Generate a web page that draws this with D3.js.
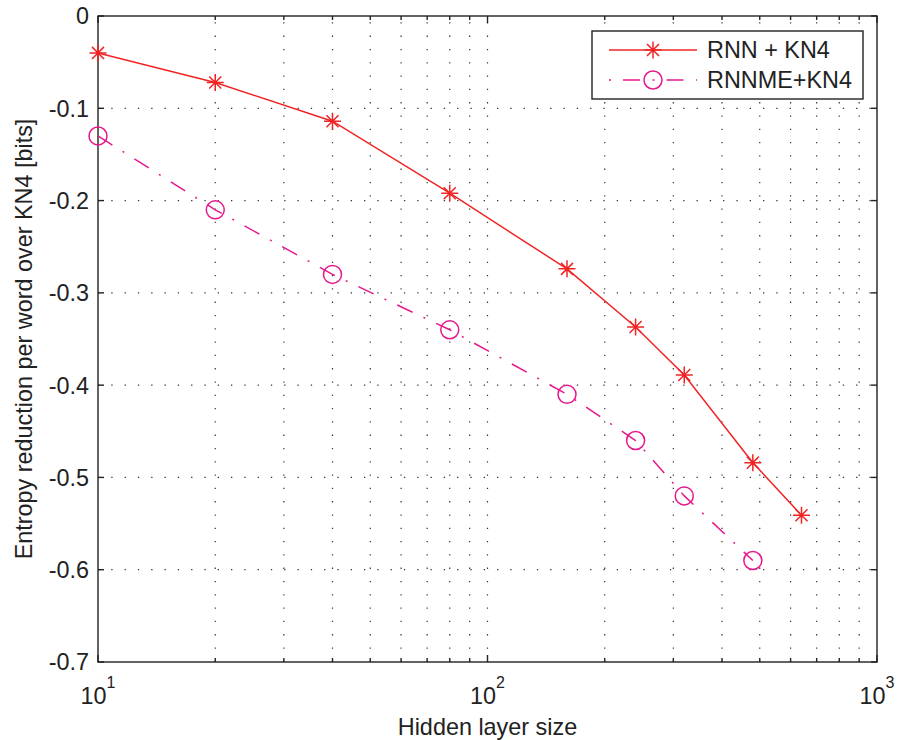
<!DOCTYPE html>
<html>
<head>
<meta charset="utf-8">
<script src="https://cdn.jsdelivr.net/npm/d3@7/dist/d3.min.js"></script>
<style>
  html, body { margin: 0; padding: 0; background: #fff; }
  svg { display: block; }
  text { font-family: "Liberation Sans", Arial, Helvetica, sans-serif; fill: #222; }
</style>
</head>
<body>
<svg id="chart" width="898" height="740"></svg>
<script>
// ---- data ----
const hiddenRNN = [10, 20, 40, 80, 160, 240, 320, 480, 640];
const entropyRNN = [-0.04, -0.072, -0.114, -0.192, -0.274, -0.337, -0.389, -0.484, -0.541];
const hiddenRNNME = [10, 20, 40, 80, 160, 240, 320, 480];
const entropyRNNME = [-0.13, -0.21, -0.28, -0.34, -0.41, -0.46, -0.52, -0.59];
const seriesNames = ["RNN + KN4", "RNNME+KN4"];
const yTicks = [0, -0.1, -0.2, -0.3, -0.4, -0.5, -0.6, -0.7];
const xMajorTicks = [10, 100, 1000];
const xExponents = ["1", "2", "3"];
const xMinorTicks = [20, 30, 40, 50, 60, 70, 80, 90, 200, 300, 400, 500, 600, 700, 800, 900];
const xLabel = "Hidden layer size";
const yLabel = "Entropy reduction per word over KN4 [bits]";

// ---- layout ----
const L = 98, R = 877, T = 16, B = 662;
const FS = 23.4;
const svg = d3.select("#chart");
const x = d3.scaleLog().domain([10, 1000]).range([L, R]);
const y = d3.scaleLinear().domain([-0.7, 0]).range([B, T]);

const redC = "#f02424";
const magC = "#e6188c";
const axisC = "#222";

// ---- grid ----
const grid = svg.append("g").attr("stroke", "#333").attr("stroke-width", 1.2)
  .attr("stroke-dasharray", "1.3,12");
xMinorTicks.concat([100]).forEach(v => {
  grid.append("line").attr("x1", x(v)).attr("x2", x(v)).attr("y1", B).attr("y2", T);
});
yTicks.filter(v => v !== 0 && v !== -0.7).forEach(v => {
  grid.append("line").attr("x1", L).attr("x2", R).attr("y1", y(v)).attr("y2", y(v));
});

// ---- axes (box with inward ticks) ----
const ax = svg.append("g").attr("stroke", axisC).attr("stroke-width", 1.4).attr("fill", "none");
ax.append("rect").attr("x", L).attr("y", T).attr("width", R - L).attr("height", B - T);
xMajorTicks.forEach(v => {
  ax.append("line").attr("x1", x(v)).attr("x2", x(v)).attr("y1", B).attr("y2", B - 7);
  ax.append("line").attr("x1", x(v)).attr("x2", x(v)).attr("y1", T).attr("y2", T + 7);
});
xMinorTicks.forEach(v => {
  ax.append("line").attr("x1", x(v)).attr("x2", x(v)).attr("y1", B).attr("y2", B - 4);
  ax.append("line").attr("x1", x(v)).attr("x2", x(v)).attr("y1", T).attr("y2", T + 4);
});
yTicks.forEach(v => {
  ax.append("line").attr("x1", L).attr("x2", L + 6).attr("y1", y(v)).attr("y2", y(v));
  ax.append("line").attr("x1", R).attr("x2", R - 6).attr("y1", y(v)).attr("y2", y(v));
});

// tick labels
const fmt = v => v === 0 ? "0" : d3.format(".1f")(v).replace("\u2212", "-");
svg.append("g").selectAll("text").data(yTicks).join("text")
  .attr("x", L - 9).attr("y", d => y(d)).attr("dy", "0.36em")
  .attr("text-anchor", "end").attr("font-size", FS).text(fmt);

xMajorTicks.forEach((v, i) => {
  const t = svg.append("text").attr("x", x(v)).attr("y", 704)
    .attr("text-anchor", "middle").attr("font-size", FS);
  t.append("tspan").text("10");
  t.append("tspan").attr("dy", -16).attr("font-size", 16).text(xExponents[i]);
});

// axis labels
svg.append("text").attr("x", (L + R) / 2).attr("y", 735).attr("text-anchor", "middle")
  .attr("font-size", FS).text(xLabel);
svg.append("text").attr("transform", `translate(32,${(T + B) / 2}) rotate(-90)`)
  .attr("text-anchor", "middle").attr("font-size", FS).text(yLabel);

// ---- series ----
const line = d3.line().x(d => x(d[0])).y(d => y(d[1]));
const dRNN = hiddenRNN.map((h, i) => [h, entropyRNN[i]]);
const dME = hiddenRNNME.map((h, i) => [h, entropyRNNME[i]]);

svg.append("path").datum(dRNN).attr("d", line).attr("fill", "none")
  .attr("stroke", redC).attr("stroke-width", 1.5);
svg.append("path").datum(dME).attr("d", line).attr("fill", "none")
  .attr("stroke", magC).attr("stroke-width", 1.5).attr("stroke-dasharray", "17,12,2,12");

function star(g, cx, cy, r) {
  const d = r * Math.SQRT1_2;
  g.append("path")
    .attr("d", `M${cx - r},${cy}L${cx + r},${cy}M${cx},${cy - r}L${cx},${cy + r}` +
      `M${cx - d},${cy - d}L${cx + d},${cy + d}M${cx - d},${cy + d}L${cx + d},${cy - d}`)
    .attr("stroke", redC).attr("stroke-width", 1.5).attr("fill", "none");
}
const mk = svg.append("g");
dRNN.forEach(d => star(mk, x(d[0]), y(d[1]), 8.5));
mk.selectAll("circle").data(dME).join("circle")
  .attr("cx", d => x(d[0])).attr("cy", d => y(d[1])).attr("r", 9)
  .attr("fill", "none").attr("stroke", magC).attr("stroke-width", 1.5);

// ---- legend ----
const lg = svg.append("g");
lg.append("rect").attr("x", 592).attr("y", 31).attr("width", 271).attr("height", 68)
  .attr("fill", "#fff").attr("stroke", axisC).attr("stroke-width", 1.4);
lg.append("line").attr("x1", 609).attr("x2", 697).attr("y1", 50).attr("y2", 50)
  .attr("stroke", redC).attr("stroke-width", 1.5);
star(lg, 653, 50, 8.5);
lg.append("line").attr("x1", 609).attr("x2", 697).attr("y1", 80).attr("y2", 80)
  .attr("stroke", magC).attr("stroke-width", 1.5).attr("stroke-dasharray", "2,12,17,12.5");
lg.append("circle").attr("cx", 653).attr("cy", 80).attr("r", 9)
  .attr("fill", "none").attr("stroke", magC).attr("stroke-width", 1.5);
lg.append("text").attr("x", 707).attr("y", 50).attr("dy", "0.36em").attr("font-size", FS).text(seriesNames[0]);
lg.append("text").attr("x", 707).attr("y", 80).attr("dy", "0.36em").attr("font-size", FS).text(seriesNames[1]);
</script>
</body>
</html>
